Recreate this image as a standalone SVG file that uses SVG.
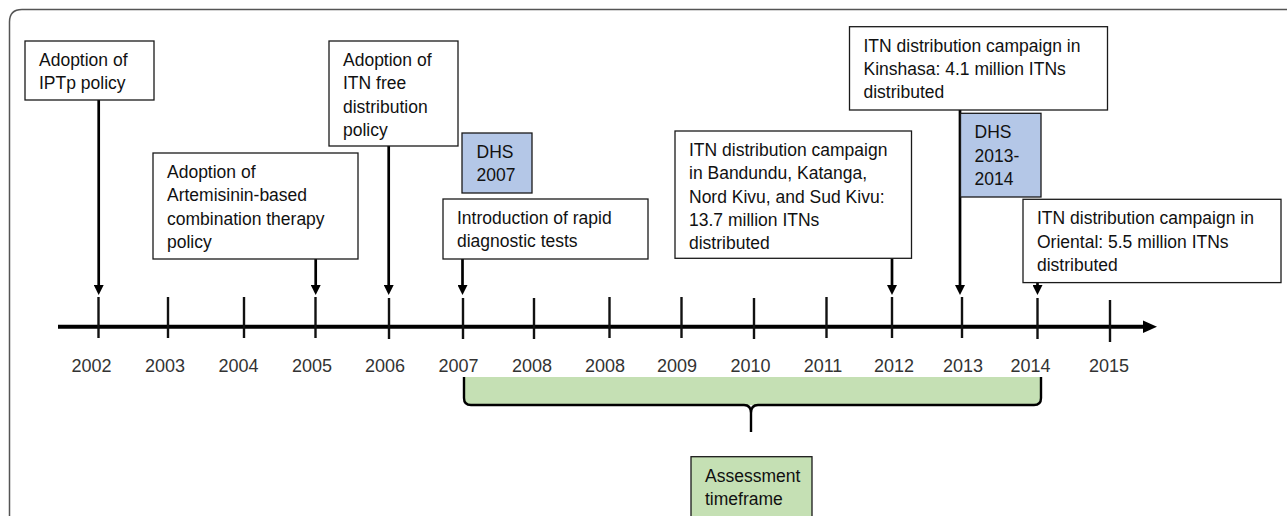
<svg xmlns="http://www.w3.org/2000/svg" width="1287" height="516" viewBox="0 0 1287 516">
<style>
.box{fill:#fff;stroke:#1a1a1a;stroke-width:1.3}
.dhs{fill:#b4c7e7;stroke:#1a1a1a;stroke-width:1.3}
.grn{fill:#c5e0b4;stroke:#1a1a1a;stroke-width:1.3}
.t{font-family:"Liberation Sans",Arial,sans-serif;font-size:17.5px;fill:#111}
.yr{font-family:"Liberation Sans",Arial,sans-serif;font-size:18px;fill:#333;text-anchor:middle}
.arr{stroke:#000;stroke-width:2.7;fill:none}
.tick{stroke:#111;stroke-width:2.4}
</style>
<defs>
<marker id="ah" markerUnits="userSpaceOnUse" viewBox="0 0 10 10" refX="5" refY="5" markerWidth="10" markerHeight="10" orient="auto">
<path d="M0,0 L10,5 L0,10 z" fill="#000"/>
</marker>
</defs>
<rect width="1287" height="516" fill="#fff"/>
<path d="M9.5,516 V22 Q9.5,9.5 22,9.5 H1287" fill="none" stroke="#555" stroke-width="1.5"/>

<g id="timeline">
<line x1="58" y1="326.7" x2="1146" y2="326.7" stroke="#000" stroke-width="4"/>
<polygon points="1143,320.5 1157,326.7 1143,332.9" fill="#000"/>
<g class="tick">
<line x1="98.5" y1="297" x2="98.5" y2="338"/>
<line x1="168" y1="297" x2="168" y2="338"/>
<line x1="244" y1="297" x2="244" y2="338"/>
<line x1="315.5" y1="297" x2="315.5" y2="338"/>
<line x1="389" y1="298" x2="389" y2="339"/>
<line x1="463" y1="298" x2="463" y2="339"/>
<line x1="534" y1="298" x2="534" y2="339"/>
<line x1="609.5" y1="297" x2="609.5" y2="338"/>
<line x1="681.5" y1="297" x2="681.5" y2="338"/>
<line x1="754" y1="298" x2="754" y2="339"/>
<line x1="826.5" y1="297" x2="826.5" y2="338"/>
<line x1="892" y1="297" x2="892" y2="338"/>
<line x1="962" y1="297" x2="962" y2="338"/>
<line x1="1037.5" y1="298" x2="1037.5" y2="339"/>
<line x1="1110" y1="300" x2="1110" y2="342"/>
</g>
<g class="yr">
<text x="91.5" y="371.7">2002</text>
<text x="165" y="371.7">2003</text>
<text x="238.5" y="371.7">2004</text>
<text x="312" y="371.7">2005</text>
<text x="385" y="371.7">2006</text>
<text x="458.5" y="371.7">2007</text>
<text x="532" y="371.7">2008</text>
<text x="605" y="371.7">2008</text>
<text x="677" y="371.7">2009</text>
<text x="750.5" y="371.7">2010</text>
<text x="823" y="371.7">2011</text>
<text x="894" y="371.7">2012</text>
<text x="963" y="371.7">2013</text>
<text x="1030.5" y="371.7">2014</text>
<text x="1109" y="371.7">2015</text>
</g>
</g>

<g id="connectors">
<line class="arr" x1="98.7" y1="100" x2="98.7" y2="290" marker-end="url(#ah)"/>
<line class="arr" x1="315.7" y1="259" x2="315.7" y2="290" marker-end="url(#ah)"/>
<line class="arr" x1="388.7" y1="146" x2="388.7" y2="290" marker-end="url(#ah)"/>
<line class="arr" x1="462.5" y1="259" x2="462.5" y2="290" marker-end="url(#ah)"/>
<line class="arr" x1="892" y1="258.3" x2="892" y2="290" marker-end="url(#ah)"/>
<line class="arr" x1="960" y1="110" x2="960" y2="290" marker-end="url(#ah)"/>
<line class="arr" x1="1037.5" y1="282.6" x2="1037.5" y2="290" marker-end="url(#ah)"/>
</g>

<g id="bracket">
<path d="M464,377 V398 Q464,405 471,405 H1034 Q1041,405 1041,398 V377 Z" fill="#c5e0b4"/>
<path d="M464,377 V398 Q464,405 471,405 H744 Q751,405 751,413 V432 M751,413 Q751,405 758,405 H1034 Q1041,405 1041,398 V377" fill="none" stroke="#000" stroke-width="2.4"/>
</g>

<g id="iptp">
<rect class="box" x="25" y="41" width="129" height="59"/>
<text class="t" x="39" y="66">Adoption of</text>
<text class="t" x="39" y="89.3">IPTp policy</text>
</g>

<g id="act">
<rect class="box" x="153" y="153" width="205" height="106"/>
<text class="t" x="167" y="178">Adoption of</text>
<text class="t" x="167" y="201.3">Artemisinin-based</text>
<text class="t" x="167" y="224.6">combination therapy</text>
<text class="t" x="167" y="247.9">policy</text>
</g>

<g id="itnfree">
<rect class="box" x="329" y="41" width="129" height="105"/>
<text class="t" x="343" y="66">Adoption of</text>
<text class="t" x="343" y="89.3">ITN free</text>
<text class="t" x="343" y="112.6">distribution</text>
<text class="t" x="343" y="135.9">policy</text>
</g>

<g id="dhs2007">
<rect class="dhs" x="462" y="133" width="70" height="60"/>
<text class="t" x="476.5" y="158">DHS</text>
<text class="t" x="476.5" y="181.3">2007</text>
</g>

<g id="rdt">
<rect class="box" x="443" y="199" width="205" height="60"/>
<text class="t" x="457" y="224">Introduction of rapid</text>
<text class="t" x="457" y="247.3">diagnostic tests</text>
</g>

<g id="bandundu">
<rect class="box" x="675" y="131" width="236.5" height="127.3"/>
<text class="t" x="689" y="156">ITN distribution campaign</text>
<text class="t" x="689" y="179.3">in Bandundu, Katanga,</text>
<text class="t" x="689" y="202.6">Nord Kivu, and Sud Kivu:</text>
<text class="t" x="689" y="225.9">13.7 million ITNs</text>
<text class="t" x="689" y="249.2">distributed</text>
</g>

<g id="kinshasa">
<rect class="box" x="849.5" y="26.7" width="258" height="83.3"/>
<text class="t" x="863.5" y="51.7">ITN distribution campaign in</text>
<text class="t" x="863.5" y="75">Kinshasa: 4.1 million ITNs</text>
<text class="t" x="863.5" y="98.3">distributed</text>
</g>

<g id="dhs2013">
<rect class="dhs" x="960.5" y="113.3" width="80.5" height="83.7"/>
<text class="t" x="974.5" y="138.3">DHS</text>
<text class="t" x="974.5" y="161.6">2013-</text>
<text class="t" x="974.5" y="184.9">2014</text>
</g>

<g id="oriental">
<rect class="box" x="1023" y="199.3" width="258" height="83.3"/>
<text class="t" x="1037" y="224.3">ITN distribution campaign in</text>
<text class="t" x="1037" y="247.6">Oriental: 5.5 million ITNs</text>
<text class="t" x="1037" y="270.9">distributed</text>
</g>

<g id="assessment">
<rect class="grn" x="691" y="456.7" width="121" height="70"/>
<text class="t" x="705" y="481.7">Assessment</text>
<text class="t" x="705" y="505">timeframe</text>
</g>
</svg>
